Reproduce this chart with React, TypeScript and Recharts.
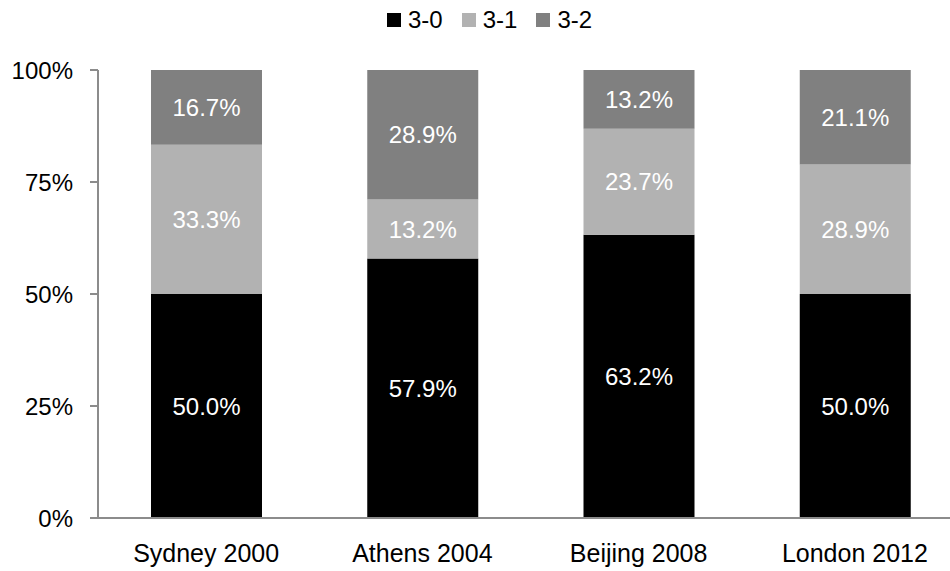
import { BarChart, Bar, XAxis, YAxis, LabelList } from "recharts";

const games = ["Sydney 2000", "Athens 2004", "Beijing 2008", "London 2012"];
const threeNil = [50.0, 57.9, 63.2, 50.0];
const threeOne = [33.3, 13.2, 23.7, 28.9];
const threeTwo = [16.7, 28.9, 13.2, 21.1];
const yTicks = [0, 25, 50, 75, 100];

const series = [
  { key: "s30", name: "3-0", color: "#000000" },
  { key: "s31", name: "3-1", color: "#b2b2b2" },
  { key: "s32", name: "3-2", color: "#808080" },
];

const data = games.map((g, i) => ({
  game: g,
  s30: threeNil[i],
  s31: threeOne[i],
  s32: threeTwo[i],
}));

const font = "'Liberation Sans', Arial, sans-serif";
const axisColor = "#8c8c8c";

const Legend = () => (
  <div
    style={{
      position: "absolute",
      left: 387,
      top: 7,
      display: "flex",
      alignItems: "center",
      fontFamily: font,
      fontSize: 24,
      color: "#000",
      lineHeight: "26px",
    }}
  >
    {series.map((s) => (
      <div key={s.key} style={{ display: "flex", alignItems: "center", marginRight: 19 }}>
        <span style={{ width: 14, height: 14, background: s.color, marginRight: 7 }} />
        <span>{s.name}</span>
      </div>
    ))}
  </div>
);

const fmt = (v: any) => `${Number(v).toFixed(1)}%`;

export default function App() {
  return (
    <div style={{ position: "absolute", left: 0, top: 0, width: 950, height: 571, overflow: "hidden", background: "#fff" }}>
      <Legend />
      <BarChart
        width={965}
        height={571}
        data={data}
        margin={{ top: 70, right: 2, bottom: 23, left: 0 }}
        barSize={111}
      >
        <XAxis
          dataKey="game"
          height={30}
          tickLine={false}
          tickSize={8}
          tickMargin={18}
          axisLine={{ stroke: axisColor, strokeWidth: 2 }}
          tick={{ fill: "#000", fontSize: 25, fontFamily: font }}
        />
        <YAxis
          width={98}
          domain={[0, 100]}
          allowDataOverflow
          ticks={yTicks}
          tickFormatter={(v) => `${v}%`}
          tickSize={8}
          tickMargin={17}
          axisLine={{ stroke: axisColor, strokeWidth: 2 }}
          tickLine={{ stroke: axisColor, strokeWidth: 2 }}
          tick={{ fill: "#000", fontSize: 24, fontFamily: font }}
        />
        {series.map((s) => (
          <Bar key={s.key} dataKey={s.key} name={s.name} stackId="a" fill={s.color} isAnimationActive={false}>
            <LabelList
              dataKey={s.key}
              position="center"
              formatter={fmt}
              fill="#ffffff"
              fontSize={24}
              fontFamily={font}
            />
          </Bar>
        ))}
      </BarChart>
    </div>
  );
}
